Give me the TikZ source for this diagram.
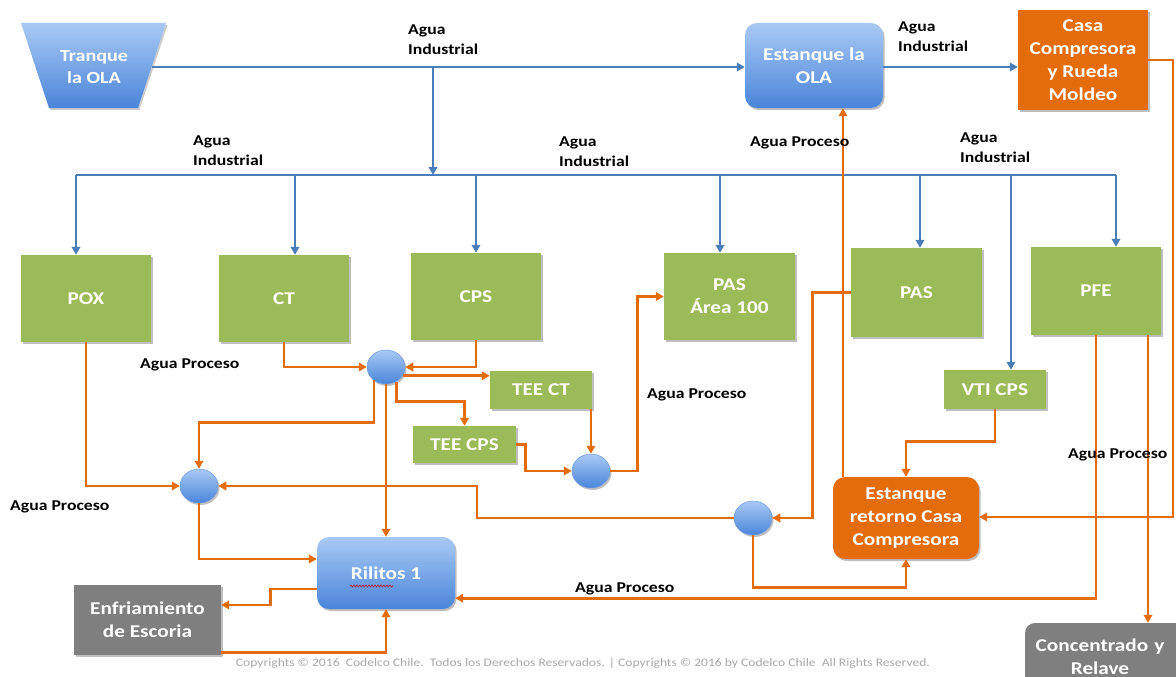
\documentclass[tikz,border=0pt]{standalone}
\usepackage{fontspec}
\setmainfont{Carlito}[FakeStretch=1.18]
\usetikzlibrary{arrows.meta,shapes.geometric,calc,shadows,decorations.pathmorphing}
\definecolor{lblue}{HTML}{4A7EBB}
\definecolor{lorange}{HTML}{E46C0A}
\definecolor{grn}{HTML}{9BBB59}
\definecolor{gry}{HTML}{7F7F7F}
\definecolor{bTop}{HTML}{A9C9F4}
\definecolor{bBot}{HTML}{4A85DA}
\definecolor{obox}{HTML}{E46C0A}
\definecolor{copyg}{HTML}{A8A8A8}
\begin{document}
\begin{tikzpicture}[x=1pt,y=-1pt,
  tip/.tip={Triangle[length=8pt,width=8.5pt]},
  bl/.style={draw=lblue,line width=2.7pt},
  bla/.style={bl,-tip},
  ora/.style={draw=lorange,line width=2.7pt,-tip},
  shad/.style={drop shadow={shadow xshift=1.5pt,shadow yshift=-2pt,opacity=0.25,fill=black}},
  gbox/.style={rectangle,fill=grn,text=white,font=\fontsize{18}{23}\selectfont\bfseries,align=center,inner sep=0pt,shad},
  bbox/.style={rectangle,rounded corners=12pt,top color=bTop,bottom color=bBot,text=white,font=\fontsize{18}{23}\selectfont\bfseries,align=center,inner sep=0pt,shad},
  obx/.style={rectangle,fill=obox,text=white,font=\fontsize{18}{23}\selectfont\bfseries,align=center,inner sep=0pt,shad},
  gybox/.style={rectangle,fill=gry,text=white,font=\fontsize{18}{23}\selectfont\bfseries,align=center,inner sep=0pt,shad},
  mix/.style={ellipse,minimum width=38pt,minimum height=34pt,inner sep=0pt,top color=bTop,bottom color=bBot,draw=bBot!80!white,line width=0.5pt,shad},
  lbl/.style={anchor=west,inner sep=0pt,align=left,font=\fontsize{15}{20}\selectfont\bfseries,text=black}
]
\useasboundingbox (0,0) rectangle (1176,677);
\fill[white] (0,0) rectangle (1176,677);

% ---------- Tranque la OLA (trapezoid) ----------
\fill[black,opacity=0.2] (22.5,25) -- (167.5,25) -- (139.5,110) -- (50.5,110) -- cycle;
\shade[top color=bTop,bottom color=bBot] (21,23) -- (166,23) -- (138,108) -- (49,108) -- cycle;
\node[text=white,font=\fontsize{17}{22}\selectfont\bfseries,align=center,inner sep=0pt] (tranque) at (94,67) {Tranque\\la OLA};
\coordinate (trout) at (152,67);

% ---------- Boxes ----------
\node[bbox,minimum width=138pt,minimum height=85pt] (estola) at (814,65.5) {Estanque la\\OLA};
\node[obx,minimum width=130pt,minimum height=100pt] (casa) at (1083,60) {Casa\\Compresora\\y Rueda\\Moldeo};

\node[gbox,minimum width=130pt,minimum height=87pt] (pox) at (86,298.5) {POX};
\node[gbox,minimum width=130pt,minimum height=87pt] (ct) at (284,298.5) {CT};
\node[gbox,minimum width=130pt,minimum height=87pt] (cps) at (476,296.5) {CPS};
\node[gbox,minimum width=131pt,minimum height=87pt] (pasa) at (729.5,296.5) {PAS\\Área 100};
\node[gbox,minimum width=131pt,minimum height=89pt] (pas) at (916.5,292.5) {PAS};
\node[gbox,minimum width=130pt,minimum height=88pt] (pfe) at (1096,291) {PFE};

\node[gbox,minimum width=102pt,minimum height=38pt] (teect) at (541,390) {TEE CT};
\node[gbox,minimum width=103pt,minimum height=37pt] (teecps) at (464.5,444.5) {TEE CPS};
\node[gbox,minimum width=102pt,minimum height=39pt] (vti) at (995,389.5) {VTI CPS};

\node[mix] (c1) at (386,367) {};
\node[mix] (c2) at (199,486) {};
\node[mix] (c3) at (753,518) {};
\node[mix] (c4) at (591,471) {};

\node[obx,rounded corners=12pt,minimum width=146pt,minimum height=82pt] (retorno) at (906,518) {Estanque\\retorno Casa\\Compresora};
\node[bbox,minimum width=138pt,minimum height=72pt] (rilitos) at (386,573) {Rilitos 1};
\node[gybox,minimum width=147pt,minimum height=70pt] (enf) at (147.5,620) {Enfriamiento\\de Escoria};
\node[gybox,rounded corners=10pt,minimum width=162pt,minimum height=68pt,text width=150pt] (conc) at (1106,657) {\hspace*{-12pt}Concentrado y\\\hspace*{-12pt}Relave};

% red spell-check underline under "Rilitos"
\draw[red!80!black,line width=0.6pt,decorate,decoration={snake,amplitude=0.9pt,segment length=3pt}] (350,586) -- (393,586);

% ---------- Agua industrial (blue) ----------
\coordinate (br) at (433,67);
\coordinate (bus) at (433,175);
\coordinate (b0) at (76,175);
\coordinate (b6) at (1116,175);
\draw[bla] (trout) -- (trout -| estola.west);
\draw[bla] (br) -- (bus);
\draw[bl] (b0) -- (b6);
\draw[bla] (b0) -- (b0 |- pox.north);
\draw[bla] (295,175) -- (295,0 |- ct.north);
\draw[bla] (476,175) -- (cps.north);
\draw[bla] (720,175) -- (720,0 |- pasa.north);
\draw[bla] (920,175) -- (920,0 |- pas.north);
\draw[bla] (1011,175) -- (1011,0 |- vti.north);
\draw[bla] (b6) -- (b6 |- pfe.north);
\draw[bla] (estola.east |- trout) -- (casa.west |- trout);

% ---------- Agua proceso (orange) ----------
\coordinate (rc) at (1173,517);
\draw[ora] (casa.east) -| (rc) -- (retorno.east |- rc);
\draw[ora] (843,0 |- retorno.north) -- (843,0 |- estola.south);

\draw[ora] (ct.south) |- (c1.west);
\draw[ora] (cps.south) |- (c1.east);
\draw[ora] (c1.-28) -- (c1.-28 -| teect.west);
\draw[ora] (c1.-55) |- ($(teecps.north)+(0,-24)$) -- (teecps.north);
\draw[ora] (c1.228) |- ($(c2.north)+(0,-46)$) -- (c2.north);
\draw[ora] (c1.south) -- (rilitos.north);

\draw[ora] (pox.south) |- (c2.west);
\coordinate (k) at (477,486);
\draw[ora] (c3.west) -| (k) -- (c2.east);
\draw[ora] (c2.south) |- ($(rilitos.west)+(0,-14)$);

\draw[ora] (c4.north |- teect.south) -- (c4.north);
\draw[ora] (teecps.east) -| ($(c4.west)+(-46,0)$) -- (c4.west);
\draw[ora] (c4.east) -| ($(pasa.west)+(-26,0)$) -- (pasa.west);

\draw[ora] (pas.west) -| ($(c3.east)+(40,0)$) -- (c3.east);
\draw[ora] (vti.south) |- ($(retorno.north)+(0,-35)$) -- (retorno.north);
\draw[ora] (c3.south) |- ($(retorno.south)+(0,28)$) -- (retorno.south);

\draw[ora] (pfe.south) |- ($(rilitos.south east)+(0,-11)$);
\draw[ora] (1148,0 |- pfe.south) -- (1148,0 |- conc.north);

\draw[ora] ($(rilitos.west)+(0,16)$) -| ($(enf.east)+(49,-15)$) -- ($(enf.east)+(0,-15)$);
\draw[ora] ($(enf.south east)+(0,-3)$) -| (rilitos.south);

% ---------- Labels ----------
\node[lbl] (l1) at (408,40) {Agua\\Industrial};
\node[lbl] (l2) at (193,151) {Agua\\Industrial};
\node[lbl] (l3) at (559,152) {Agua\\Industrial};
\node[lbl] (l4) at (960,148) {Agua\\Industrial};
\node[lbl] (l5) at (898,37) {Agua\\Industrial};
\node[lbl] (p1) at (750,143) {Agua Proceso};
\node[lbl] (p2) at (140,365) {Agua Proceso};
\node[lbl] (p3) at (10,507) {Agua Proceso};
\node[lbl] (p4) at (647,395) {Agua Proceso};
\node[lbl] (p5) at (1068,455) {Agua Proceso};
\node[lbl] (p6) at (575,589) {Agua Proceso};

\node[text=copyg,font=\fontsize{11.5}{13}\selectfont,inner sep=0pt] (copy) at (583,663) {Copyrights © 2016\ \ Codelco Chile.\ \ Todos los Derechos Reservados. | Copyrights © 2016 by Codelco Chile\ \ All Rights Reserved.};
\end{tikzpicture}
\end{document}
